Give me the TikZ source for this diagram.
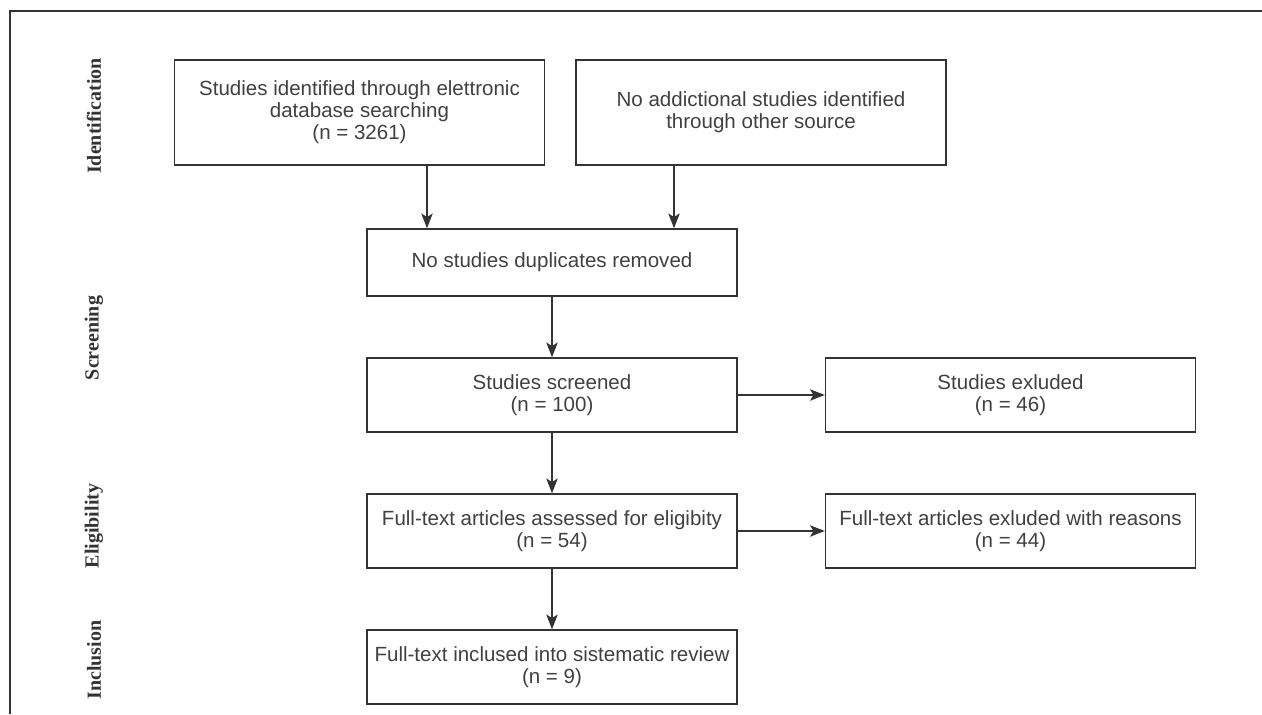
\documentclass[tikz,border=0pt]{standalone}
\usepackage{fontspec}
\setmainfont{Liberation Sans}
\newfontfamily\labserif{Liberation Serif}
\usetikzlibrary{arrows.meta,calc}
\definecolor{ink}{HTML}{333333}
\definecolor{txt}{HTML}{404040}
\begin{document}
\begin{tikzpicture}[x=0.75pt,y=-0.75pt,
  box/.style={draw=ink, line width=1.1pt, text=txt, align=center,
    minimum width=277.5pt, inner sep=0pt,
    font=\fontsize{15.4}{16.6}\selectfont},
  phase/.style={rotate=90, text=ink, font=\labserif\bfseries\fontsize{15}{16}\selectfont},
  arr/.style={draw=ink, line width=1.1pt, -{Stealth[length=11pt,width=8.5pt,inset=2.5pt]}},
  frame/.style={draw=ink, line width=1.4pt}]
\useasboundingbox (0,0) rectangle (1262,714);
\draw[frame] (10,714) -- (10,11) -- (1262,11);
% phase labels
\node[phase] (lid) at (94,116) {Identification};
\node[phase] (lsc) at (94,338) {Screening};
\node[phase] (lel) at (94,526) {Eligibility};
\node[phase] (lin) at (94,660) {Inclusion};
% boxes
\node[box, minimum height=78.75pt] (A) at (359.5,112.5) {Studies identified through elettronic\\database searching\\(n = 3261)};
\node[box, minimum height=78.75pt] (B) at (761,112.5) {No addictional studies identified\\through other source};
\node[box, minimum height=50.25pt] (C) at (552,262.5) {No studies duplicates removed};
\node[box, minimum height=55.5pt] (D) at (552,395) {Studies screened\\(n = 100)};
\node[box, minimum height=55.5pt] (E) at (1010.5,395) {Studies exluded\\(n = 46)};
\node[box, minimum height=55.5pt] (F) at (552,531) {Full-text articles assessed for eligibity\\(n = 54)};
\node[box, minimum height=55.5pt] (G) at (1010.5,531) {Full-text articles exluded with reasons\\(n = 44)};
\node[box, minimum height=55.5pt] (I) at (552,667) {Full-text inclused into sistematic review\\(n = 9)};
% connectors
\coordinate (c1) at ($(C.north)+(-125,0)$);
\coordinate (c2) at ($(C.north)+(122,0)$);
\draw[arr] (A.south -| c1) -- (c1);
\draw[arr] (B.south -| c2) -- (c2);
\draw[arr] (C.south) -- (D.north);
\draw[arr] (D.east) -- (E.west);
\draw[arr] (D.south) -- (F.north);
\draw[arr] (F.east) -- (G.west);
\draw[arr] (F.south) -- (I.north);
\end{tikzpicture}
\end{document}
